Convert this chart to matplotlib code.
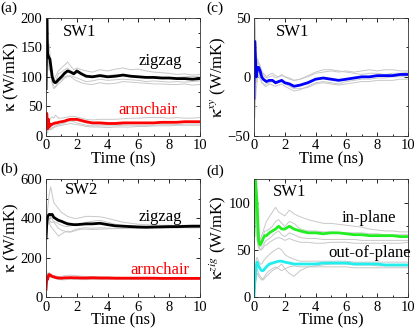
import matplotlib
matplotlib.use("Agg")
import matplotlib.pyplot as plt
from matplotlib.ticker import MultipleLocator

plt.rcParams["font.family"] = "Liberation Serif"
plt.rcParams["mathtext.fontset"] = "stix"

# shared time grid (ns)
t = [0.0, 0.05, 0.1, 0.15, 0.2, 0.25, 0.3, 0.4, 0.5, 0.6, 0.7, 0.8, 1.0, 1.2, 1.4,
     1.6, 1.8, 2.0, 2.3, 2.6, 3.0, 3.5, 4.0, 4.5, 5.0, 5.5, 6.0, 6.5, 7.0, 7.5,
     8.0, 8.5, 9.0, 9.5, 10.0]

# (a) SW1
a_zig = [80, 200, 140, 135, 132, 130, 120, 100, 92, 90, 92, 95, 100, 106, 110, 108, 105,
         110, 105, 101, 100, 102, 100, 101, 103, 101, 100, 99, 99, 98, 98, 97, 97, 96, 97]
a_zig_runs = [
    [60, 220, 160, 150, 155, 140, 125, 105, 95, 100, 105, 110, 115, 120, 125, 118, 112, 115,
     112, 110, 108, 112, 110, 113, 115, 112, 113, 110, 108, 107, 106, 104, 105, 103, 104],
    [100, 180, 130, 120, 110, 115, 112, 95, 88, 92, 98, 105, 108, 112, 115, 110, 108, 106,
     104, 103, 101, 104, 102, 104, 102, 100, 101, 99, 100, 99, 98, 99, 100, 101, 100],
    [90, 230, 145, 140, 125, 120, 110, 90, 85, 82, 85, 88, 92, 98, 100, 102, 100, 98,
     95, 92, 93, 96, 94, 95, 96, 95, 94, 92, 93, 92, 91, 92, 91, 92, 93],
    [70, 190, 120, 125, 130, 125, 105, 88, 80, 82, 88, 92, 95, 100, 102, 100, 96, 93,
     90, 88, 87, 90, 88, 89, 92, 91, 90, 89, 88, 88, 87, 87, 88, 86, 87],
]
a_arm = [35, 38, 12, 28, 15, 20, 18, 20, 21, 22, 22, 23, 24, 25, 27, 28, 28, 28, 26, 24,
         22, 22, 21, 21, 22, 22, 22, 22, 22, 23, 23, 23, 24, 24, 24]
a_arm_runs = [
    [30, 40, 20, 30, 25, 28, 30, 32, 30, 35, 33, 30, 30, 31, 32, 33, 33, 32, 30, 28,
     27, 28, 28, 28, 29, 30, 30, 31, 31, 31, 30, 31, 30, 30, 31],
    [20, 30, 8, 22, 18, 16, 15, 18, 18, 20, 21, 22, 23, 24, 26, 27, 26, 26, 24, 22,
     20, 20, 19, 19, 20, 21, 21, 21, 22, 22, 22, 23, 23, 24, 24],
    [40, 25, 15, 20, 12, 14, 12, 14, 15, 17, 18, 19, 20, 22, 24, 25, 24, 22, 20, 18,
     17, 17, 17, 17, 18, 18, 18, 18, 18, 19, 19, 19, 20, 20, 20],
    [10, 20, 5, 15, 10, 12, 10, 12, 14, 15, 16, 17, 18, 19, 20, 21, 20, 19, 18, 16,
     15, 15, 14, 15, 15, 15, 16, 16, 17, 17, 17, 18, 18, 18, 18],
]

# (c) SW1 off-diagonal
c_xy = [-18, 30, 15, 0, 5, 8, 8, 5, 0, -2, -3, -4, -3, -3, -5, -4, -3, -5, -6, -8,
        -7, -5, -2, -1, -2, -3, -2, -1, 0, 0, 1, 1, 1, 2, 2]
c_xy_runs = [
    [-40, 50, 35, 20, 15, 10, 12, 10, 5, 3, 2, 0, 2, 3, 1, 0, 2, 0, -2, -3,
     -2, 0, 3, 4, 5, 4, 5, 4, 5, 6, 5, 6, 6, 5, 5],
    [10, 40, 10, -5, 0, 5, 4, 0, -5, -6, -8, -8, -6, -7, -8, -7, -6, -8, -10, -12,
     -11, -8, -5, -4, -5, -6, -4, -3, -2, -2, -1, -1, 0, 0, 1],
    [0, -35, -20, -10, -5, 0, 2, -2, -4, -6, -7, -6, -5, -4, -6, -5, -4, -6, -8, -10,
     -10, -9, -6, -5, -6, -7, -6, -5, -4, -4, -3, -3, -3, -2, -2],
    [-20, 20, 30, 10, 12, 15, 12, 8, 4, 2, 0, -1, 0, 1, -1, 0, 1, 0, -1, -3,
     -2, 1, 4, 6, 6, 5, 4, 3, 2, 3, 3, 2, 3, 3, 4],
]

# (b) SW2
b_zig = [300, 380, 410, 415, 420, 420, 418, 420, 405, 400, 395, 390, 385, 378, 372, 370,
         368, 368, 370, 372, 372, 375, 368, 362, 360, 358, 356, 355, 356, 357, 358, 358,
         359, 360, 360]
b_zig_runs = [
    [350, 400, 450, 480, 520, 540, 560, 520, 480, 470, 460, 450, 430, 420, 410, 405, 400,
     400, 405, 410, 410, 408, 400, 390, 380, 375, 370, 368, 366, 365, 365, 364, 365, 366, 366],
    [250, 360, 400, 410, 400, 390, 380, 380, 385, 380, 378, 372, 365, 360, 358, 362, 365,
     370, 372, 380, 385, 390, 380, 370, 365, 362, 360, 358, 358, 357, 357, 358, 358, 359, 358],
    [300, 330, 380, 370, 390, 400, 410, 395, 380, 370, 360, 350, 340, 335, 330, 332, 340,
     345, 350, 352, 350, 352, 350, 348, 348, 349, 350, 350, 352, 352, 353, 353, 354, 354, 355],
    [320, 360, 390, 400, 380, 370, 360, 350, 340, 330, 320, 310, 320, 330, 335, 330, 335,
     340, 345, 345, 343, 345, 347, 348, 350, 350, 350, 350, 351, 350, 350, 351, 352, 351, 352],
]
b_arm = [40, 100, 90, 110, 115, 112, 110, 105, 103, 100, 98, 97, 96, 98, 98, 99, 98, 98,
         97, 97, 98, 97, 97, 96, 96, 96, 96, 96, 96, 95, 95, 95, 95, 95, 95]
b_arm_runs = [
    [60, 130, 110, 120, 125, 120, 118, 112, 110, 108, 106, 104, 105, 108, 110, 112, 110, 108,
     106, 105, 104, 103, 102, 101, 100, 100, 100, 100, 99, 99, 99, 99, 99, 99, 99],
    [30, 80, 100, 105, 110, 108, 104, 100, 98, 96, 94, 93, 92, 92, 93, 94, 93, 93,
     92, 92, 93, 92, 92, 92, 92, 92, 92, 92, 92, 92, 92, 92, 92, 92, 92],
    [20, 70, 85, 95, 100, 102, 100, 98, 96, 94, 92, 90, 88, 88, 90, 90, 90, 90,
     89, 89, 90, 90, 90, 90, 90, 90, 90, 90, 90, 90, 90, 90, 90, 90, 90],
]

# (d) SW1 zigzag split
d_in = [65, 130, 125, 110, 100, 80, 60, 55, 58, 62, 65, 65, 68, 70, 72, 75, 72, 72, 75, 72,
        70, 68, 68, 67, 68, 68, 67, 66, 66, 65, 65, 65, 65, 64, 64]
d_in_runs = [
    [40, 120, 110, 90, 70, 60, 55, 60, 65, 70, 75, 80, 85, 90, 95, 90, 88, 86, 92, 88,
     85, 82, 80, 78, 78, 77, 76, 75, 74, 72, 71, 70, 70, 69, 69],
    [80, 130, 130, 120, 110, 90, 70, 60, 60, 65, 70, 70, 72, 75, 80, 82, 78, 75, 80, 78,
     72, 70, 70, 69, 69, 68, 68, 68, 68, 67, 67, 66, 66, 66, 66],
    [30, 100, 80, 70, 60, 55, 52, 50, 52, 55, 58, 60, 62, 65, 68, 70, 66, 64, 68, 66,
     63, 62, 62, 61, 61, 61, 61, 61, 60, 60, 60, 60, 60, 60, 60],
    [50, 110, 100, 85, 75, 65, 55, 50, 50, 52, 55, 55, 58, 60, 62, 63, 62, 60, 62, 60,
     58, 58, 57, 57, 58, 58, 58, 57, 57, 57, 57, 57, 57, 57, 58],
]
d_out = [0, 15, 25, 33, 37, 35, 33, 30, 28, 28, 30, 32, 35, 36, 37, 38, 38, 37, 36, 35,
         35, 35, 35, 36, 36, 36, 36, 35, 35, 35, 35, 34, 34, 34, 34]
d_out_runs = [
    [5, 20, 30, 40, 42, 40, 38, 35, 35, 38, 40, 42, 45, 48, 50, 52, 50, 45, 42, 40,
     38, 38, 38, 38, 38, 38, 38, 37, 37, 37, 37, 37, 37, 37, 37],
    [0, 10, 20, 25, 30, 28, 25, 22, 20, 18, 20, 22, 25, 28, 30, 32, 35, 30, 25, 22,
     28, 32, 33, 34, 35, 35, 35, 34, 34, 34, 33, 33, 33, 33, 33],
    [0, 5, 15, 20, 25, 25, 22, 20, 18, 20, 22, 25, 28, 30, 32, 30, 28, 30, 32, 33,
     32, 32, 32, 32, 32, 32, 32, 31, 31, 31, 31, 31, 31, 31, 31],
]

GRAY = "#c8c8c8"
FS = 11


def style(ax, ylim, ymaj, ylabel):
    ax.set_xlim(0, 10)
    ax.set_ylim(*ylim)
    ax.xaxis.set_major_locator(MultipleLocator(2))
    ax.xaxis.set_minor_locator(MultipleLocator(1))
    ax.yaxis.set_major_locator(MultipleLocator(ymaj))
    ax.yaxis.set_minor_locator(MultipleLocator(ymaj / 2))
    ax.tick_params(which="both", direction="in", top=True, right=True,
                   labelsize=FS - 0.5, width=0.6)
    ax.tick_params(axis="x", pad=2.5)
    ax.tick_params(axis="y", pad=2.5)
    ax.tick_params(which="major", length=3)
    ax.tick_params(which="minor", length=1.5)
    for s in ax.spines.values():
        s.set_linewidth(0.6)
        s.set_color("#333333")
    ax.set_xlabel("Time (ns)", fontsize=FS + 1, labelpad=-0.5)
    ax.set_ylabel(ylabel, fontsize=FS + 1, labelpad=0)


def draw(ax, runs, mean, color):
    for r in runs:
        ax.plot(t, r, color=GRAY, lw=0.7)
    ax.plot(t, mean, color=color, lw=2)


fig = plt.figure(figsize=(4.15, 3.29), dpi=100)
axa = fig.add_axes([0.111, 0.587, 0.371, 0.359])
axc = fig.add_axes([0.612, 0.587, 0.371, 0.359])
axb = fig.add_axes([0.111, 0.097, 0.371, 0.359])
axd = fig.add_axes([0.612, 0.097, 0.371, 0.359])

# (a)
draw(axa, a_zig_runs, a_zig, "black")
draw(axa, a_arm_runs, a_arm, "red")
style(axa, (0, 200), 50, r"$\mathrm{\kappa}$ (W/mK)")
axa.text(0.11, 0.88, "SW1", transform=axa.transAxes, fontsize=FS + 1, va="center")
axa.text(0.60, 0.63, "zigzag", transform=axa.transAxes, fontsize=FS + 1, va="center")
axa.text(0.47, 0.22, "armchair", transform=axa.transAxes, fontsize=FS + 1, va="center",
         color="red")

# (c)
draw(axc, c_xy_runs, c_xy, "blue")
style(axc, (-50, 50), 50, r"$\mathrm{\kappa}^{xy}$ (W/mK)")
axc.text(0.14, 0.88, "SW1", transform=axc.transAxes, fontsize=FS + 1, va="center")

# (b)
draw(axb, b_zig_runs, b_zig, "black")
draw(axb, b_arm_runs, b_arm, "red")
style(axb, (0, 600), 200, r"$\mathrm{\kappa}$ (W/mK)")
axb.text(0.12, 0.91, "SW2", transform=axb.transAxes, fontsize=FS + 1, va="center")
axb.text(0.60, 0.68, "zigzag", transform=axb.transAxes, fontsize=FS + 1, va="center")
axb.text(0.55, 0.23, "armchair", transform=axb.transAxes, fontsize=FS + 1, va="center",
         color="red")

# (d)
draw(axd, d_in_runs, d_in, "#22ee22")
draw(axd, d_out_runs, d_out, "#22eeee")
style(axd, (0, 125), 50, r"$\mathrm{\kappa}^{zig}$ (W/mK)")
axd.text(0.12, 0.89, "SW1", transform=axd.transAxes, fontsize=FS + 1, va="center")
axd.text(0.57, 0.67, "in-plane", transform=axd.transAxes, fontsize=FS + 1, va="center")
axd.text(0.48, 0.37, "out-of-plane", transform=axd.transAxes, fontsize=FS + 1,
         va="center")

# panel letters
for lbl, x, y in [("(a)", 0.0, 0.995), ("(c)", 0.498, 0.995),
                  ("(b)", 0.0, 0.505), ("(d)", 0.498, 0.500)]:
    fig.text(x, y, lbl, fontsize=FS, va="top", ha="left")

fig.savefig("out.png", dpi=100)
